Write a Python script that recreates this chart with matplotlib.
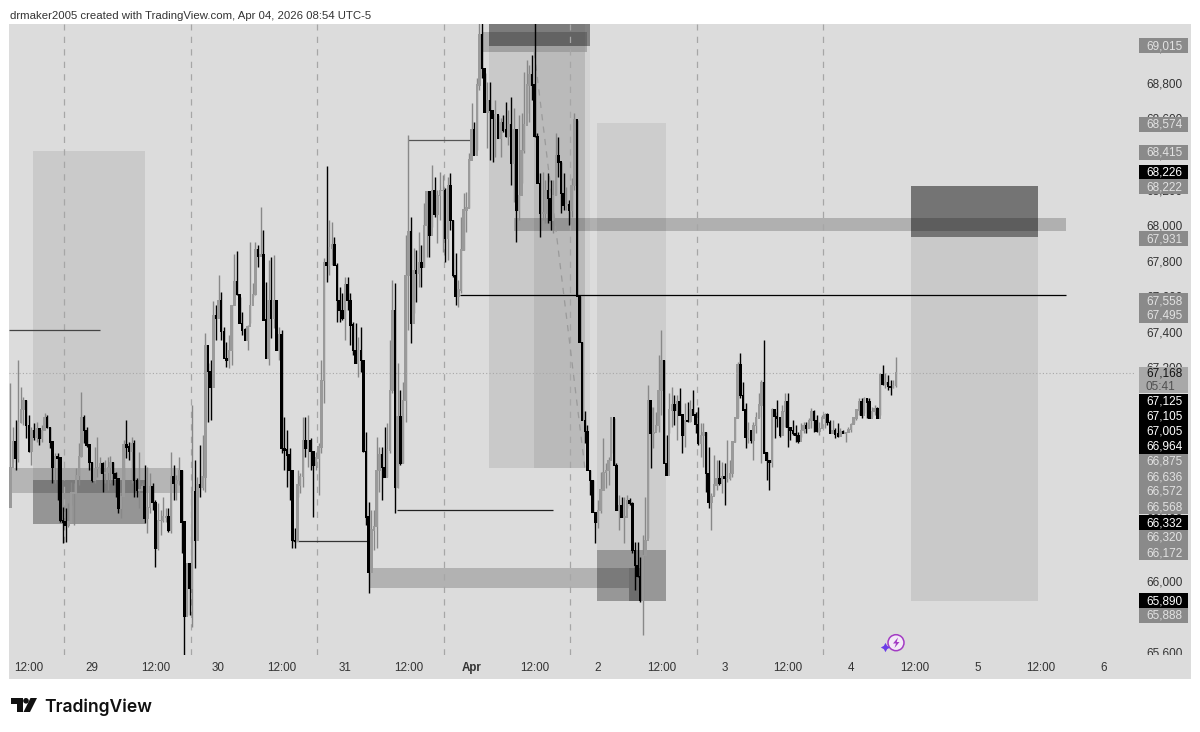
import numpy as np
import matplotlib
matplotlib.use("Agg")
import matplotlib.pyplot as plt
from matplotlib.patches import Rectangle, Circle, Polygon
from matplotlib.transforms import Bbox, TransformedBbox

plt.rcParams["font.family"] = ["Liberation Sans", "DejaVu Sans"]

# 30 minute bars
first_open = 66414
highs = [67112,66864,66903,67241,67089,67033,67016,66932,66864,66886,66892,66858,66875,66943,66932,66864,66780,66718,66718,66690,
         66414,66408,66436,66555,66549,66633,66774,67061,66932,66864,66752,66667,66752,66808,66696,66667,66678,66696,66701,66667,
         66611,66566,66493,66791,66903,66780,66808,66791,66577,66724,66549,66650,66639,66605,66549,66453,66436,66397,66471,66408,
         66408,66724,66650,66594,66696,66622,66330,66099,66099,66988,66678,66583,66763,66819,67393,67224,67241,67572,67550,67719,
         67624,67427,67342,67382,67550,67838,67854,67596,67511,67421,67438,67905,67674,67905,67888,68102,67972,67680,67803,67821,
         67832,67578,67427,67410,66921,66847,66746,66583,66296,66622,66605,66921,66921,66932,66802,66724,66724,66774,67241,67815,
         68332,68028,68017,67933,67786,67652,67618,67708,67708,67618,67455,67449,67371,67427,67241,66836,66442,66397,66397,66808,
         66752,66752,66864,66886,67353,67691,67674,67224,67072,67117,67944,68507,68046,67871,67860,67961,67888,68124,68186,68186,
         68338,68271,68197,68299,68282,68208,68271,68293,68028,67843,67691,68046,68180,68186,68405,68686,68580,68827,69150,69150,
         68855,68805,68805,68619,68703,68619,68602,68619,68692,68647,68721,68658,68524,68619,68630,68861,68928,68900,68957,69150,
         68518,68293,68299,68253,68293,68253,68253,68518,68496,68355,68293,68214,68141,68265,68630,68591,67601,67342,66954,66875,
         66622,66566,66380,66453,66611,66802,66661,66696,66915,66915,66661,66482,66471,66471,66482,66465,66442,66217,66217,66133,
         66257,66471,67100,66977,66977,66949,67269,67410,67241,66819,67055,67089,67044,67044,67083,66932,66999,67005,67016,67072,
         66949,66977,66886,66886,66836,66752,66493,66707,66678,66678,66667,66661,66791,66678,66780,66921,67230,67280,67117,66999,
         66892,66847,66892,66949,67055,67128,67353,66724,66678,66971,66949,67016,66921,66988,67055,67055,66864,66903,66875,66836,
         66886,66892,66892,66915,66971,66960,66932,66892,66932,66943,66943,66903,66903,66858,66886,66858,66847,66836,66864,66886,
         66921,66960,67027,67027,67033,67027,67027,66977,66988,66977,67168,67213,67168,67157,67128,67128,67258]
lows = [66414,66667,66622,66667,66886,66875,66802,66724,66650,66791,66780,66763,66780,66858,66858,66746,66549,66549,66453,66330,
        66211,66217,66302,66425,66313,66493,66538,66696,66774,66752,66622,66555,66549,66583,66605,66499,66549,66510,66549,66538,
        66471,66380,66352,66493,66690,66678,66549,66471,66471,66408,66527,66324,66268,66380,66397,66077,66172,66257,66330,66330,
        66274,66268,66453,66453,66538,66155,65560,65807,65807,65739,66071,66228,66471,66510,66499,66892,66903,67128,67353,67511,
        67353,67252,67202,67196,67213,67550,67607,67449,67382,67353,67297,67449,67596,67607,67764,67832,67466,67252,67213,67365,
        67421,67297,67241,66718,66622,66527,66453,66183,66183,66471,66493,66527,66696,66639,66622,66358,66622,66482,66718,66999,
        67680,67719,67775,67775,67455,67455,67466,67353,67522,67325,67269,67224,67146,67174,66724,66313,65930,66189,66172,66183,
        66499,66453,66583,66583,66718,67055,66380,66521,66650,66661,66892,67410,67336,67505,67567,67652,67652,67764,67821,67821,
        67989,68046,67899,68028,67849,67792,67803,67972,67708,67550,67539,67618,67860,67961,68096,68394,68394,68422,68760,68827,
        68636,68433,68366,68355,68383,68490,68383,68524,68496,68450,68225,68130,67905,68028,68236,68405,68630,68580,68703,68496,
        68236,67933,68028,68011,68011,67972,67955,68169,68271,68068,68085,68085,68000,68046,68197,67601,67342,66903,66774,66622,
        66482,66386,66211,66296,66380,66549,66521,66538,66718,66650,66397,66285,66358,66211,66408,66425,66155,65947,66021,65880,
        65694,66155,66240,66633,66746,66847,66836,66932,66661,66594,66830,66864,66875,66791,66932,66718,66752,66892,66892,66932,
        66830,66763,66696,66639,66499,66408,66285,66482,66510,66538,66493,66425,66555,66566,66583,66780,66921,67027,66960,66746,
        66774,66774,66678,66830,66921,66661,66718,66566,66510,66639,66802,66864,66808,66875,66864,66752,66791,66819,66780,66774,
        66808,66830,66830,66858,66858,66836,66836,66819,66864,66858,66875,66830,66830,66802,66808,66830,66830,66780,66836,66836,
        66886,66903,66932,66915,66943,66915,66915,66921,66932,66915,66932,67100,67083,67072,67044,67083,67089]
closes = [66639,66780,66690,66892,66965,67016,66875,66724,66847,66808,66858,66802,66847,66915,66864,66780,66639,66696,66690,66341,
          66330,66313,66330,66493,66493,66594,66696,66915,66847,66763,66667,66566,66633,66639,66661,66605,66611,66639,66667,66605,
          66577,66408,66471,66763,66752,66724,66774,66566,66510,66510,66527,66352,66414,66527,66442,66183,66341,66341,66358,66358,
          66285,66583,66549,66566,66622,66330,65796,66099,65958,66499,66228,66538,66527,66583,67325,67174,67089,67494,67477,67578,
          67399,67252,67241,67297,67550,67685,67607,67449,67410,67353,67427,67550,67607,67860,67826,67832,67466,67252,67578,67477,
          67578,67297,67382,66746,66735,66707,66622,66228,66222,66538,66588,66791,66746,66791,66724,66650,66690,66752,67128,67792,
          67775,67871,67888,67775,67578,67522,67477,67663,67578,67438,67297,67224,67297,67241,66724,66358,66049,66285,66307,66622,
          66707,66639,66583,66735,67072,67522,66527,66921,66661,67016,67719,67961,67449,67747,67730,67792,67764,68000,68186,67944,
          68197,68057,68169,68197,68197,67927,68225,68028,67719,67596,67635,67860,68085,68096,68366,68535,68394,68788,69069,68883,
          68636,68703,68647,68602,68619,68490,68574,68535,68496,68563,68349,68535,68085,68169,68422,68563,68788,68844,68788,68496,
          68236,68068,68068,68197,68152,68028,68169,68394,68355,68180,68113,68113,68085,68225,68591,67601,67342,66903,66841,66622,
          66566,66386,66330,66397,66510,66611,66622,66678,66915,66650,66397,66425,66358,66358,66453,66436,66172,66088,66021,65891,
          66144,66228,67016,66830,66836,66875,67072,67241,66661,66594,66960,66988,66960,67005,66932,66819,66903,66897,66960,66932,
          66881,66774,66819,66836,66605,66442,66471,66538,66577,66544,66583,66577,66577,66605,66780,66915,67213,67044,66960,66808,
          66847,66791,66875,66915,66988,67117,66718,66678,66667,66960,66921,66915,66819,66954,67005,66864,66847,66830,66819,66785,
          66847,66875,66858,66903,66949,66903,66841,66858,66915,66932,66892,66830,66847,66825,66813,66841,66830,66836,66852,66881,
          66915,66960,67005,66932,67027,67005,66915,66949,66971,66915,67157,67106,67117,67094,67089,67100,67168]

# hours from 29 Mar 00:00
bar_hours = -15.5 + 0.5 * np.arange(len(closes))
opens = [first_open] + closes[:-1]

# zones: hour from, hour to, price from, price to, darkness
zone_t0 = [-11.2, -11.2, -15.75, 75.3, 83.9, 93.5, 75.3, 74.2, 95.8, 95.8, 52.55, 101.9, 80.1, 155.4, 155.4]
zone_t1 = [10.05, 10.05, 16.7, 93.5, 93.5, 94.5, 94.5, 93.9, 108.9, 108.9, 101.9, 104.0, 184.8, 179.5, 179.5]
zone_p0 = [66320, 66320, 66492, 66636, 66636, 66636, 69007, 68973, 65888, 65888, 65958, 65885, 67966, 65888, 67931]
zone_p1 = [68415, 66568, 66636, 69131, 68973, 69131, 69131, 69086, 68574, 66172, 66071, 66071, 68040, 67931, 68222]
zone_alpha = [.077, .26, .177, .086, .075, .04, .38, .2, .068, .26, .19, .28, .195, .086, .47]

# drawn horizontal levels
level_t0 = [69.8, -15.75, 60.0, 57.9, 38.1]
level_t1 = [184.8, 1.5, 71.9, 87.5, 52.55]
level_p = [67604, 67410, 68478, 66397, 66222]
level_c = ["#000000", "#444444", "#555555", "#222222", "#333333"]

last_price = 67168
y_ticks = list(range(65600, 69001, 200))
x_ticks = list(range(-12, 193, 12))
x_labels = ["12:00", "29", "12:00", "30", "12:00", "31", "12:00", "Apr", "12:00", "2",
            "12:00", "3", "12:00", "4", "12:00", "5", "12:00", "6"]
session_breaks = [-5.25 + 24 * k for k in range(7)]

price_tags = ["69,015", "68,574", "68,415", "68,226", "68,222", "67,931", "67,558", "67,495",
              "67,125", "67,105", "67,005", "66,964", "66,875", "66,636", "66,572", "66,568",
              "66,332", "66,320", "66,172", "65,890", "65,888"]
tag_dark = [0, 0, 0, 1, 0, 0, 0, 0, 1, 1, 1, 1, 0, 0, 0, 0, 1, 0, 0, 1, 0]
tag_ypx = [45.7, 124, 152, 172, 186.5, 238.5, 300.5, 315.5, 401, 416, 431, 446, 461.5, 476.5,
           491.5, 506.5, 522.5, 537.5, 552.5, 600.5, 615.5]

W, H = 1200, 732
fig = plt.figure(figsize=(W / 100, H / 100), dpi=100, facecolor="white")
fig.add_artist(Rectangle((9 / W, 1 - 679 / H), 1182 / W, 655 / H, transform=fig.transFigure,
                         facecolor="#dcdcdc", edgecolor="none", zorder=-5))

ax = fig.add_axes([9 / W, 1 - 655 / H, 1126 / W, 631 / H], facecolor="none")
for s in ax.spines.values():
    s.set_visible(False)

for t0, t1, p0, p1, a in zip(zone_t0, zone_t1, zone_p0, zone_p1, zone_alpha):
    ax.add_patch(Rectangle((t0, p0), t1 - t0, p1 - p0, facecolor="black", alpha=a, edgecolor="none", zorder=1))

ax.vlines(session_breaks, 65582, 69131, color="#a6a6a6", lw=0.9, linestyles=(0, (5, 5)), zorder=1.5)
ax.plot([83.9, 93.5], [68973, 66636], color="#9a9a9a", lw=0.9, ls=(0, (5, 5)), zorder=1.5)
ax.axhline(last_price, color="#a8a8a8", lw=0.8, ls=(0, (1, 2)), zorder=1.5)

for t0, t1, p, c in zip(level_t0, level_t1, level_p, level_c):
    ax.hlines(p, t0, t1, color=c, lw=0.9, zorder=2)

o = np.array(opens)
c = np.array(closes)
up = c >= o
wick_col = np.where(up, "#888888", "#000000")
body_col = np.where(up, "#9a9a9a", "#000000")
ax.vlines(bar_hours, lows, highs, colors=wick_col, lw=1.0, zorder=3)
ax.bar(bar_hours, np.abs(c - o) + 6, bottom=np.minimum(o, c) - 3, width=0.48, color=body_col, lw=0, zorder=3.2)

ax.set_xticks(x_ticks)
ax.set_xticklabels(x_labels)
ax.set_yticks(y_ticks)
ax.set_yticklabels([f"{v:,}" for v in y_ticks])
ax.set_xlim(-15.75, 197.88)
ax.set_ylim(65582, 69131)
ax.yaxis.tick_right()
ax.tick_params(axis="x", length=0, pad=5, labelsize=8.4, labelcolor="#333333")
ax.tick_params(axis="y", length=0, pad=8.5, labelsize=8.5, labelcolor="#333333")
for lab in ax.get_xticklabels():
    if lab.get_text() == "Apr":
        lab.set_fontweight("bold")
clip = TransformedBbox(Bbox([[0, 1 - 655 / H], [1, 1]]), fig.transFigure)
for lab in ax.get_yticklabels():
    lab.set_clip_box(clip)
    lab.set_clip_on(True)

# overlay in pixels for the price tags and the branding
top = fig.add_axes([0, 0, 1, 1], facecolor="none", zorder=5)
top.set_xlim(0, W)
top.set_ylim(H, 0)
top.axis("off")

for txt, dark, yp in zip(price_tags, tag_dark, tag_ypx):
    top.add_patch(Rectangle((1139, yp - 7.5), 48.5, 15, facecolor="#000000" if dark else "#8a8a8a", edgecolor="none"))
    top.text(1146, yp - 1, txt, color="white" if dark else "#e2e2e2", fontsize=8.5, va="center_baseline", ha="left")

top.add_patch(Rectangle((1139, 366.5), 48.5, 26.5, facecolor="#a8a8a8", edgecolor="none"))
top.text(1146, 372.5, "67,168", color="#111111", fontsize=8.5, va="center_baseline")
top.text(1146, 385, "05:41", color="#505050", fontsize=8.5, va="center_baseline")

top.text(10, 15, "drmaker2005 created with TradingView.com, Apr 04, 2026 08:54 UTC-5",
         color="#333333", fontsize=8.2, va="center_baseline")

# logo
top.add_patch(Polygon([(11, 698), (22.5, 698), (22.5, 712), (16.5, 712), (16.5, 703.5), (11, 703.5)], color="#111111", lw=0))
top.add_patch(Circle((26, 700.8), 2.8, color="#111111", lw=0))
top.add_patch(Polygon([(30.5, 698), (37, 698), (30, 712), (23.5, 712)], color="#111111", lw=0))
top.text(44.5, 705, "TradingView", color="#111111", fontsize=12.6, fontweight="semibold",
         family="Inter", va="center_baseline")

# small lightning badge
top.add_patch(Circle((896, 642.7), 8, facecolor="#f3eaf7", edgecolor="#a33bc4", lw=1.1))
top.add_patch(Polygon([(898, 637.5), (893, 643.5), (896, 643.5), (894.5, 648), (899.5, 642), (896.7, 642)], color="#a33bc4", lw=0))
top.scatter([885], [646.7], marker=(4, 1, 0), s=45, color="#6a3de8", lw=0)

fig.savefig("out.png", dpi=100)
